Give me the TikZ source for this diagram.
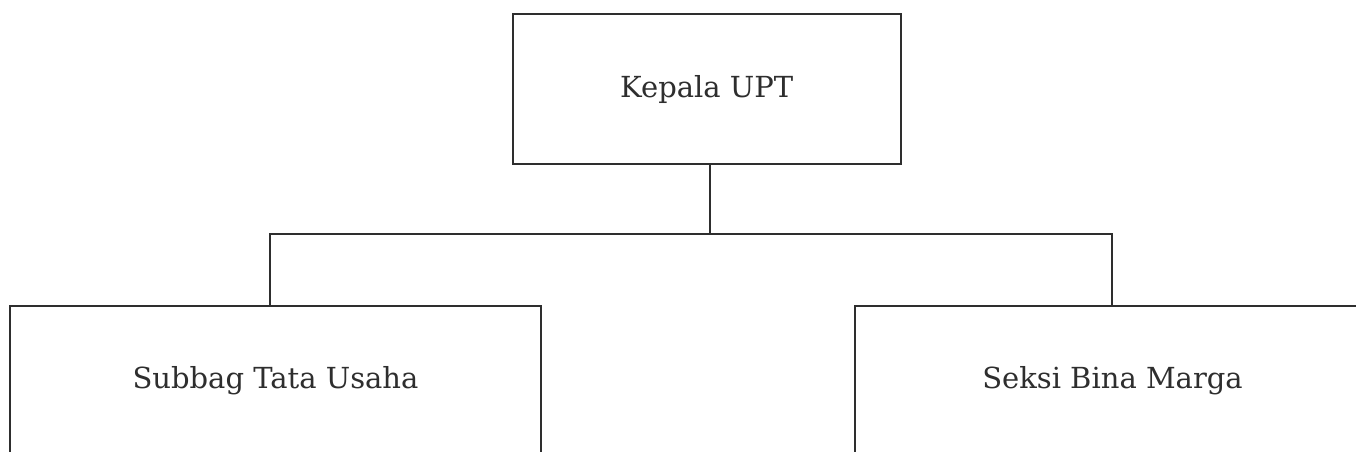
\documentclass[tikz,border=0pt]{standalone}
\usepackage{fontspec}
\setmainfont{DejaVu Serif}
\definecolor{ink}{HTML}{2E2E2E}
\begin{document}
\begin{tikzpicture}[x=1pt,y=-1pt,
  orgbox/.style={draw=ink,line width=1.6pt,inner sep=0pt,text=ink,font=\fontsize{29}{35}\selectfont},
  link/.style={draw=ink,line width=1.6pt}]
\useasboundingbox (0,0) rectangle (1356,452);
\clip (0,0) rectangle (1356,452);
\fill[white] (0,0) rectangle (1356,452);
\node[orgbox,minimum width=388pt,minimum height=150pt] (top) at (706.7,89) {Kepala UPT};
\node[orgbox,minimum width=531pt,minimum height=150pt] (left) at (275.5,381) {Subbag Tata Usaha};
\node[orgbox,minimum width=515pt,minimum height=150pt] (right) at (1112.5,381) {Seksi Bina Marga};
\coordinate (hub) at (710,234);
\coordinate (la) at (270,234);
\coordinate (ra) at (1112,234);
\draw[link] (hub |- top.south) -- (hub);
\draw[link] (la |- left.north) -- (la) -- (ra) -- (ra |- right.north);
\end{tikzpicture}
\end{document}
